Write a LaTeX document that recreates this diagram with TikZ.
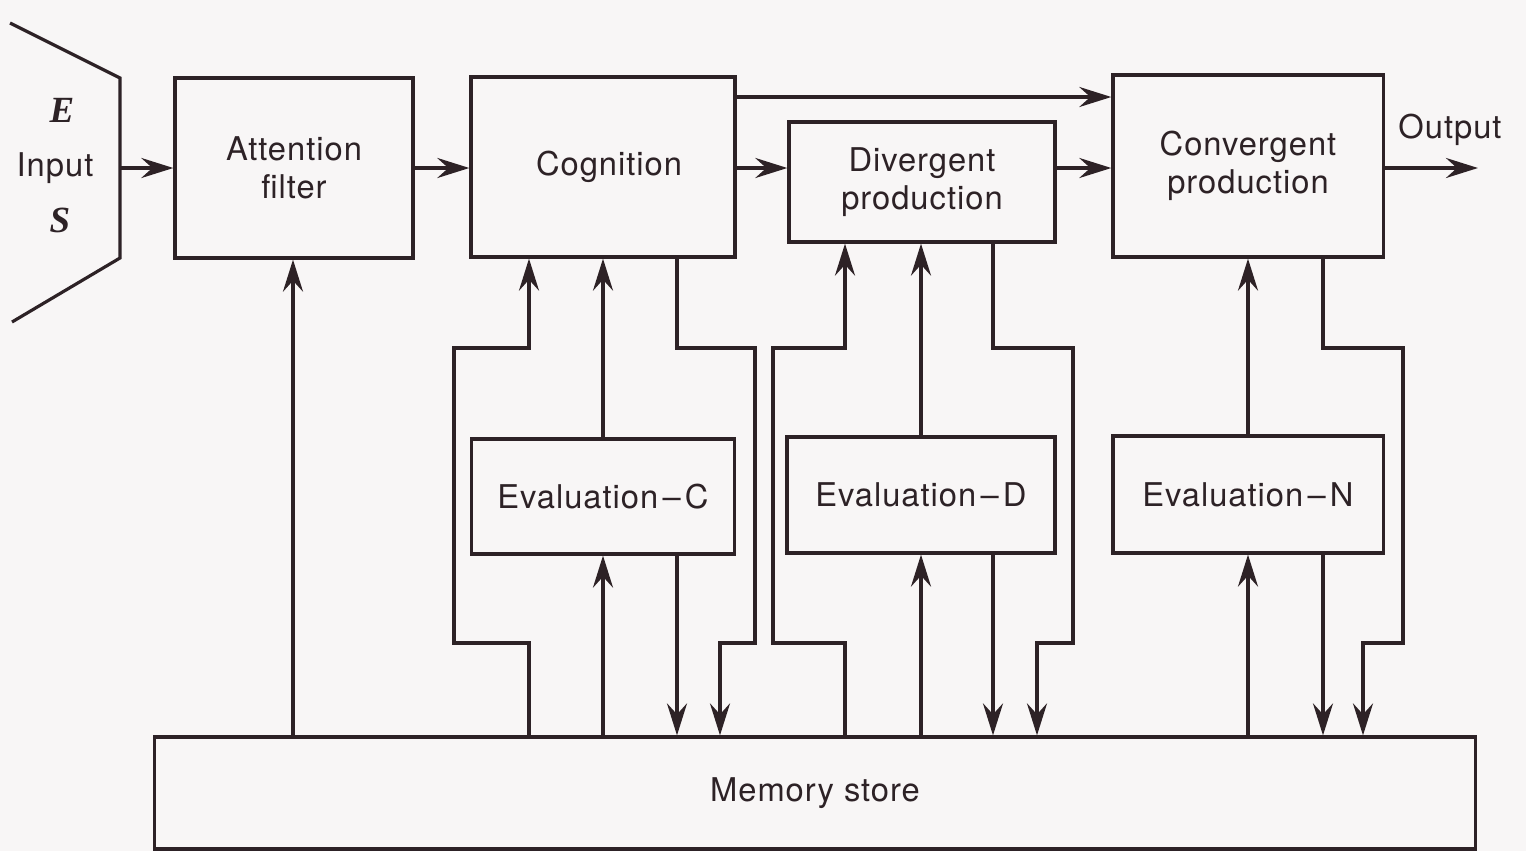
\documentclass[tikz,border=0pt]{standalone}
\usepackage{fontspec}
\setmainfont{TeX Gyre Heros}[LetterSpace=3]
\newfontfamily\esfont{Liberation Serif}
\usetikzlibrary{arrows.meta}
\definecolor{ink}{RGB}{45,34,38}
\definecolor{paper}{RGB}{248,246,246}
\tikzset{
  box/.style={draw=ink, line width=0.9pt, inner sep=0pt, align=center,
    font=\fontsize{9.3}{10.8}\selectfont, text=ink},
  wire/.style={draw=ink, line width=1.05pt, line join=miter},
  arr/.style={wire, -{Stealth[length=0.32cm, width=0.2cm, inset=0.11cm]}},
  lbl/.style={font=\fontsize{9.3}{10.8}\selectfont, text=ink, inner sep=0pt},
  es/.style={font=\esfont\bfseries\itshape\fontsize{10.5}{12}\selectfont, text=ink, inner sep=0pt}
}
\begin{document}
\begin{tikzpicture}[x=0.01cm, y=-0.01cm]
\fill[paper] (0,0) rectangle (1526,851);
\useasboundingbox (0,0) rectangle (1526,851);

% boxes
\node[box, minimum width=2.38cm, minimum height=1.80cm] (att) at (294,168) {Attention\\filter};
\node[box, minimum width=2.64cm, minimum height=1.80cm] (cog) at (603,167) {\hspace*{0.12cm}Cognition};
\node[box, minimum width=2.66cm, minimum height=1.20cm] (div) at (922,182) {Divergent\\production};
\node[box, minimum width=2.70cm, minimum height=1.82cm] (conv) at (1248,166) {Convergent\\production};
\node[box, minimum width=2.63cm, minimum height=1.15cm] (evC) at (603,496.5) {Evaluation\kern1.2pt–\kern1.2pt C};
\node[box, minimum width=2.68cm, minimum height=1.16cm] (evD) at (921,495) {Evaluation\kern1.2pt–\kern1.2pt D};
\node[box, minimum width=2.70cm, minimum height=1.17cm] (evN) at (1248,494.5) {Evaluation\kern1.2pt–\kern1.2pt N};
\node[box, minimum width=13.20cm, minimum height=1.12cm] (mem) at (815,793) {Memory store};

% input funnel
\draw[wire, line width=0.9pt] (10,23) -- (120,78) -- (120,258) -- (12,322);
\node[es] (E) at (62,110) {E};
\node[lbl] (inp) at (55,168) {Input};
\node[es] (S) at (60,220) {S};
\coordinate (inpt) at (120,168);
\coordinate (ymain) at (0,168);
\coordinate (ytop) at (0,97);
\coordinate (outend) at (1478,168);
\node[lbl] (out) at (1450,130) {Output};

% column coordinates
\coordinate (ca) at (529,0);
\coordinate (cb) at (677,0);
\coordinate (cc) at (720,0);
\coordinate (da) at (845,0);
\coordinate (db) at (993,0);
\coordinate (dc) at (1037,0);
\coordinate (nb) at (1323,0);
\coordinate (nc) at (1363,0);
\coordinate (aa) at (293,0);

% main flow
\draw[arr] (inpt) -- (att.west |- inpt);
\draw[arr] (att.east |- ymain) -- (cog.west |- ymain);
\draw[arr] (cog.east |- ymain) -- (div.west |- ymain);
\draw[arr] (div.east |- ymain) -- (conv.west |- ymain);
\draw[arr] (cog.east |- ytop) -- (conv.west |- ytop);
\draw[arr] (conv.east |- ymain) -- (outend);

% attention from memory
\draw[arr] (mem.north -| aa) -- (att.south -| aa);

% cognition group
\draw[arr] (mem.north -| ca) |- (454,643) |- (529,348) -- (cog.south -| ca);
\draw[arr] (evC.north) -- (evC.north |- cog.south);
\draw[arr] (cog.south -| cb) |- (755,348) |- (720,643) -- (mem.north -| cc);
\draw[arr] (mem.north -| evC.south) -- (evC.south);
\draw[arr] (evC.south -| cb) -- (mem.north -| cb);

% divergent group
\draw[arr] (mem.north -| da) |- (773,643) |- (845,348) -- (div.south -| da);
\draw[arr] (evD.north) -- (evD.north |- div.south);
\draw[arr] (div.south -| db) |- (1073,348) |- (1037,643) -- (mem.north -| dc);
\draw[arr] (mem.north -| evD.south) -- (evD.south);
\draw[arr] (evD.south -| db) -- (mem.north -| db);

% convergent group
\draw[arr] (evN.north) -- (evN.north |- conv.south);
\draw[arr] (conv.south -| nb) |- (1403,348) |- (1363,643) -- (mem.north -| nc);
\draw[arr] (mem.north -| evN.south) -- (evN.south);
\draw[arr] (evN.south -| nb) -- (mem.north -| nb);
\end{tikzpicture}
\end{document}
